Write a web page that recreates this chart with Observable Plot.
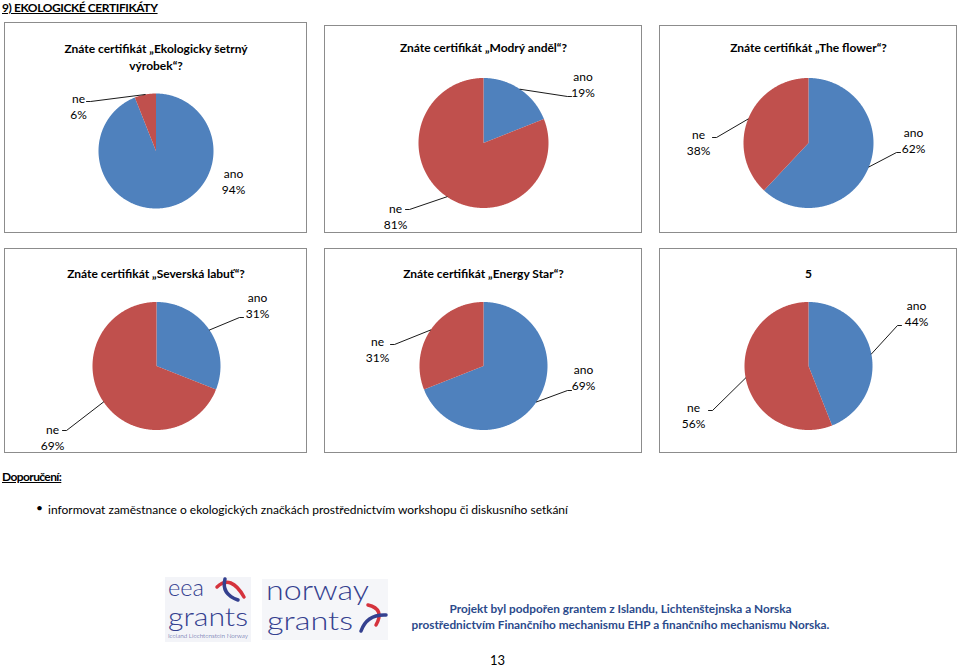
<!DOCTYPE html>
<html>
<head>
<meta charset="utf-8">
<script src="https://cdn.jsdelivr.net/npm/d3@7"></script>
<script src="https://cdn.jsdelivr.net/npm/@observablehq/plot@0.6"></script>
<style>
  body { margin: 0; background: #fff; }
  #page { position: relative; width: 960px; height: 669px; overflow: hidden; background: #fff; font-family: Lato, "Open Sans", sans-serif; color: #000; }
  .abs { position: absolute; white-space: nowrap; }
  .box { position: absolute; box-sizing: border-box; border: 1px solid #8c8c8c; background: #fff; }
  .box svg { display: block; }
  .head { font-weight: 700; font-size: 12px; text-decoration: underline; letter-spacing: -0.4px; }
  .foot { color: #2b4a8b; font-size: 11.8px; font-weight: 700; }
</style>
</head>
<body>
<div id="page">
  <div class="abs head" style="left:2px;top:0px;">9) EKOLOGICKÉ CERTIFIKÁTY</div>
  <div class="abs head" style="left:2px;top:469px;letter-spacing:-0.6px;">Doporučení:</div>
  <div class="abs" style="left:36px;top:500px;font-size:12px;">•</div>
  <div class="abs" style="left:48px;top:502px;font-size:12px;">informovat zaměstnance o ekologických značkách prostřednictvím workshopu či diskusního setkání</div>
  <svg class="abs" style="left:0;top:0;" width="960" height="669" id="logos">
    <rect x="165" y="577" width="86" height="65" fill="#f3f4f8"/>
    <rect x="262" y="579" width="126" height="61" fill="#f5f6f9"/>
    <g fill="#34408f" font-family="Lato, 'Open Sans', sans-serif" font-weight="300">
      <text x="168" y="596" font-size="24" textLength="36" lengthAdjust="spacingAndGlyphs">eea</text>
      <text x="168" y="626" font-size="25" textLength="80" lengthAdjust="spacingAndGlyphs">grants</text>
      <text x="168" y="638" font-size="5.5" textLength="80" lengthAdjust="spacingAndGlyphs">Iceland Liechtenstein Norway</text>
      <text x="266" y="600" font-size="27" textLength="103" lengthAdjust="spacingAndGlyphs">norway</text>
      <text x="267" y="630" font-size="24.5" textLength="86" lengthAdjust="spacingAndGlyphs">grants</text>
    </g>
    <g fill="none" stroke-width="3.5" stroke-linecap="round">
      <path d="M217,587 Q231,574 244,597" stroke="#d5333d"/>
      <path d="M225,579 Q221,594 238,600" stroke="#34408f"/>
      <path d="M368,605 Q385,609 376,625" stroke="#d5333d"/>
      <path d="M361,631 Q367,614 386,615" stroke="#34408f"/>
    </g>
  </svg>
  <div class="abs foot" style="left:0;width:1241px;top:601px;text-align:center;line-height:16px;">Projekt byl podpořen grantem z Islandu, Lichtenštejnska a Norska<br>prostřednictvím Finančního mechanismu EHP a finančního mechanismu Norska.</div>
  <div class="abs" style="left:490px;top:652px;font-size:13px;">13</div>
</div>
<script>
// ---- data ----
const categories = ["ano", "ne"];
const chartTitles = [
  "Znáte certifikát „Ekologicky šetrný\nvýrobek“?",
  "Znáte certifikát „Modrý anděl“?",
  "Znáte certifikát „The flower“?",
  "Znáte certifikát „Severská labuť“?",
  "Znáte certifikát „Energy Star“?",
  "5"
];
const anoPercent = [94, 19, 62, 31, 69, 44];
const nePercent = [6, 81, 38, 69, 31, 56];
const sliceColors = ["#4F81BD", "#C0504D"];

// ---- layout (pixels) ----
const boxLayout = [
  {x: 4,   y: 22,  w: 303, h: 211, cx: 155.5, cy: 150.5, r: 57.5, titleTop: 17},
  {x: 324, y: 25,  w: 318, h: 208, cx: 483,   cy: 142.5, r: 65,   titleTop: 13},
  {x: 659, y: 25,  w: 298, h: 208, cx: 808,   cy: 142.5, r: 65,   titleTop: 13},
  {x: 4,   y: 248, w: 303, h: 205, cx: 156,   cy: 365.5, r: 64,   titleTop: 16},
  {x: 324, y: 248, w: 318, h: 205, cx: 483,   cy: 365.5, r: 64,   titleTop: 16},
  {x: 659, y: 248, w: 298, h: 205, cx: 808,   cy: 365.5, r: 64,   titleTop: 16}
];
// label block centre (dx,dy) and leader elbow (ex,ey), px from the pie centre; [ano, ne]
const labelLayout = [
  [{dx: 77.5, dy: 29.5}, {dx: -77.5, dy: -45.5, ex: -65.5, ey: -49.5}],
  [{dx: 99.5, dy: -59.5, ex: 84, ey: -46.5}, {dx: -88, dy: 73, ex: -74, ey: 66.5}],
  [{dx: 105, dy: -3, ex: 88, ey: 9.5}, {dx: -110, dy: -1, ex: -92, ey: -5.5}],
  [{dx: 101, dy: -61, ex: 83, ey: -48.5}, {dx: -104, dy: 71, ex: -90, ey: 64.5}],
  [{dx: 100, dy: 11, ex: 84, ey: 24.5}, {dx: -106, dy: -17.5, ex: -89, ey: -21.5}],
  [{dx: 108, dy: -53, ex: 89, ey: -40.5}, {dx: -115, dy: 49, ex: -96, ey: 44.5}]
];

const page = document.getElementById("page");

chartTitles.forEach((title, i) => {
  const L = boxLayout[i];
  const W = L.w - 2, H = L.h - 2;
  const ox = L.cx - (L.x + 1), oy = L.cy - (L.y + 1);
  const values = [anoPercent[i], nePercent[i]];
  const arcs = d3.pie().sort(null).value(d => d.value)(categories.map((c, k) => ({answer: c, value: values[k]})));

  // slice polygons
  const slicePts = [];
  arcs.forEach(a => {
    const ans = a.data.answer;
    slicePts.push({answer: ans, x: 0, y: 0});
    const n = Math.max(2, Math.ceil((a.endAngle - a.startAngle) / (Math.PI / 360)));
    for (let s = 0; s <= n; s++) {
      const t = a.startAngle + (a.endAngle - a.startAngle) * s / n;
      slicePts.push({answer: ans, x: L.r * Math.sin(t), y: -L.r * Math.cos(t)});
    }
    slicePts.push({answer: ans, x: 0, y: 0});
  });

  // labels and leader lines
  const labels = [];
  const leaders = [];
  arcs.forEach((a, k) => {
    const pos = labelLayout[i][k];
    labels.push({x: pos.dx, y: pos.dy, text: `${a.data.answer}\n${a.data.value}%`});
    if (pos.ex !== undefined) {
      const mid = (a.startAngle + a.endAngle) / 2;
      const side = pos.ex > 0 ? 1 : -1;
      leaders.push({id: k, x: L.r * Math.sin(mid), y: -L.r * Math.cos(mid)});
      leaders.push({id: k, x: pos.ex, y: pos.ey});
      leaders.push({id: k, x: pos.ex + side * 4, y: pos.ey});
    }
  });

  const chart = Plot.plot({
    width: W,
    height: H,
    margin: 0,
    x: {type: "linear", domain: [-ox, W - ox], range: [0, W], axis: null},
    y: {type: "linear", domain: [-oy, H - oy], range: [0, H], axis: null},
    color: {domain: categories, range: sliceColors},
    style: {fontFamily: "Lato, 'Open Sans', sans-serif", fontSize: "12px", color: "#000", background: "#fff", overflow: "visible"},
    marks: [
      Plot.line(slicePts, {x: "x", y: "y", z: "answer", fill: "answer", stroke: "none", curve: "linear"}),
      Plot.line(leaders, {x: "x", y: "y", z: "id", stroke: "#000", strokeWidth: 0.9}),
      Plot.text(labels, {x: "x", y: "y", text: "text", fontSize: 12, lineHeight: 1.35, fill: "#000"}),
      Plot.text([title], {frameAnchor: "top", lineAnchor: "top", dy: L.titleTop, text: d => d, fontSize: 12, fontWeight: 700, lineHeight: 1.42, fill: "#000"})
    ]
  });

  const box = document.createElement("div");
  box.className = "box";
  box.style.left = L.x + "px";
  box.style.top = L.y + "px";
  box.style.width = L.w + "px";
  box.style.height = L.h + "px";
  box.appendChild(chart);
  page.appendChild(box);
});
</script>
</body>
</html>
